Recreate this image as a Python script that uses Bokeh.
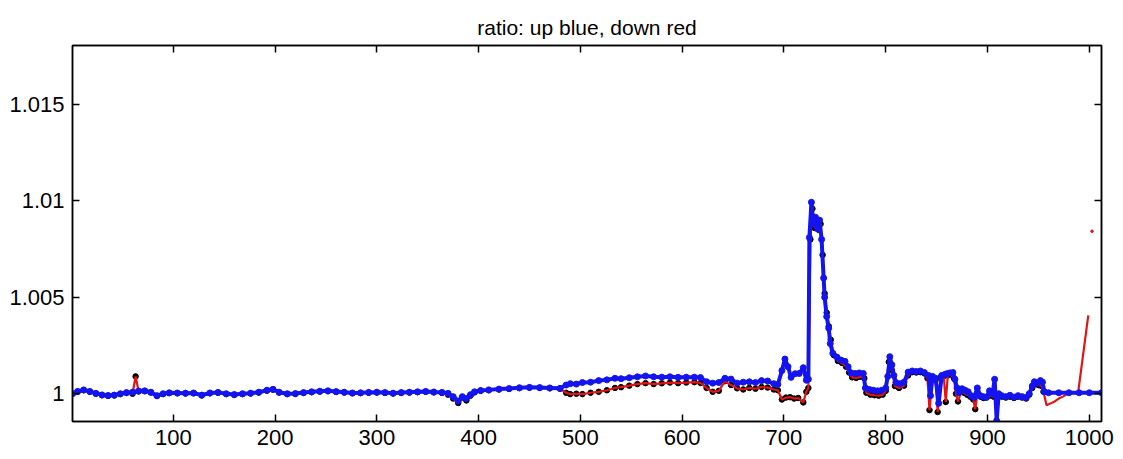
from bokeh.plotting import figure
from bokeh.models import Range1d, LinearAxis, FixedTicker, CustomJSTickFormatter
from bokeh.embed import file_html
from bokeh.resources import INLINE

# ---- data ----
x_up = [1, 6, 12, 18, 24, 30, 36, 42, 48, 54, 60, 66, 72, 78, 84, 90, 96, 104, 112, 120,
        128, 136, 144, 152, 160, 168, 176, 184, 192, 198, 204, 212, 220, 228, 236, 244, 252,
        260, 268, 276, 284, 292, 300, 308, 316, 324, 332, 340, 348, 356, 364, 370, 375, 380,
        384, 388, 392, 396, 402, 410, 420, 430, 440, 450, 460, 470, 480, 486, 490, 496, 502,
        510, 518, 526, 534, 540, 548, 556, 564, 572, 580, 588, 596, 604, 612, 618, 624, 630,
        636, 642, 648, 654, 660, 666, 672, 678, 684, 690, 694, 698, 701, 704, 707, 711, 715,
        719, 722, 724, 725, 727, 729, 731, 733, 735, 737, 739, 740, 742, 744, 745.5, 748, 752,
        756, 760, 763, 766, 770, 774, 778, 780, 784, 788, 792, 796, 800, 802, 804, 806, 808,
        810, 814, 818, 822, 826, 830, 834, 838, 842, 844, 846, 849, 852, 855, 858, 860, 863,
        866, 868, 870, 872, 875, 878, 881, 884, 887, 890, 893, 896, 899, 902, 905, 907, 909,
        911, 914, 918, 922, 926, 930, 934, 938, 941, 944, 946, 949, 952, 954, 956, 960, 970,
        980, 990, 1000, 1012]
ratio_up = [1.00000, 1.00012, 1.00020, 1.00012, 1.00002, 0.99994, 0.99991, 0.99993, 1.00000,
            1.00006, 1.00008, 1.00014, 1.00015, 1.00008, 0.99990, 1.00000, 1.00005, 1.00004,
            1.00003, 1.00004, 0.99993, 1.00004, 1.00007, 1.00000, 0.99996, 1.00000, 1.00003,
            1.00008, 1.00018, 1.00023, 1.00008, 1.00000, 1.00001, 1.00006, 1.00010, 1.00013,
            1.00015, 1.00011, 1.00008, 1.00004, 1.00005, 1.00007, 1.00008, 1.00006, 1.00003,
            1.00006, 1.00008, 1.00010, 1.00012, 1.00009, 1.00007, 1.00002, 0.99985, 0.99962,
            0.99985, 0.99975, 0.99995, 1.00010, 1.00017, 1.00020, 1.00024, 1.00027, 1.00031,
            1.00033, 1.00032, 1.00030, 1.00028, 1.00045, 1.00052, 1.00050, 1.00058, 1.00060,
            1.00068, 1.00072, 1.00080, 1.00078, 1.00083, 1.00088, 1.00092, 1.00088, 1.00086,
            1.00088, 1.00085, 1.00086, 1.00086, 1.00084, 1.00062, 1.00055, 1.00058, 1.00080,
            1.00076, 1.00055, 1.00060, 1.00062, 1.00058, 1.00068, 1.00066, 1.00052, 1.00048,
            1.00120, 1.00180, 1.00140, 1.00085, 1.00104, 1.00105, 1.00135, 1.00070, 1.00075,
            1.00810, 1.00993, 1.00880, 1.00915, 1.00855, 1.00900, 1.00800, 1.00600, 1.00500,
            1.00400, 1.00340, 1.00260, 1.00210, 1.00190, 1.00175, 1.00168, 1.00140, 1.00108,
            1.00105, 1.00108, 1.00105, 1.00030, 1.00022, 1.00018, 1.00015, 1.00018, 1.00030,
            1.00090, 1.00192, 1.00150, 1.00095, 1.00058, 1.00052, 1.00060, 1.00112, 1.00118,
            1.00115, 1.00118, 1.00110, 1.00095, 0.99990, 1.00090, 1.00080, 0.99950, 1.00095,
            1.00100, 1.00104, 1.00108, 1.00110, 1.00075, 1.00030, 1.00005, 1.00026, 1.00018,
            1.00010, 0.99990, 0.99982, 1.00030, 0.99990, 0.99985, 0.99982, 1.00015, 1.00000,
            1.00075, 0.99860, 1.00000, 0.99990, 0.99985, 0.99992, 0.99982, 0.99990, 0.99985,
            0.99980, 1.00000, 1.00040, 1.00062, 1.00055, 1.00068, 1.00060, 1.00010, 1.00005,
            1.00005, 1.00005, 1.00005, 1.00005, 1.00005]

x_down = [1, 6, 12, 18, 24, 30, 36, 42, 48, 54, 60, 63, 66, 72, 78, 84, 90, 96, 104, 112, 120,
          128, 136, 144, 152, 160, 168, 176, 184, 192, 198, 204, 212, 220, 228, 236, 244, 252,
          260, 268, 276, 284, 292, 300, 308, 316, 324, 332, 340, 348, 356, 364, 370, 375, 380,
          384, 388, 392, 396, 402, 410, 420, 430, 440, 450, 460, 470, 480, 486, 490, 496, 502,
          510, 518, 526, 534, 540, 548, 556, 564, 572, 580, 588, 596, 604, 612, 618, 624, 630,
          636, 642, 648, 654, 660, 666, 672, 678, 684, 690, 694, 698, 702, 706, 710, 714, 719,
          722, 724, 726, 728, 730, 732, 734, 736, 738, 740, 742, 744, 746, 749, 753, 757, 761,
          764, 767, 771, 775, 779, 781, 785, 789, 793, 797, 800, 803, 806, 809, 813, 818, 822,
          826, 830, 834, 838, 841, 843, 846, 849, 851, 854, 857, 859, 861, 864, 867, 869, 871,
          874, 877, 880, 883, 886, 888, 890, 893, 896, 899, 902, 906, 910, 914, 918, 922, 926,
          930, 934, 938, 941, 944, 947, 950, 953, 955, 958, 962, 966, 970, 974, 980, 986, 989,
          999]
ratio_down = [1.00000, 1.00010, 1.00018, 1.00010, 1.00000, 0.99992, 0.99989, 0.99991, 0.99998,
              1.00004, 1.00000, 1.00090, 1.00012, 1.00013, 1.00006, 0.99988, 0.99998, 1.00003,
              1.00002, 1.00001, 1.00002, 0.99991, 1.00002, 1.00005, 0.99998, 0.99994, 0.99998,
              1.00001, 1.00006, 1.00016, 1.00021, 1.00006, 0.99998, 0.99999, 1.00004, 1.00008,
              1.00011, 1.00013, 1.00009, 1.00006, 1.00002, 1.00003, 1.00005, 1.00006, 1.00004,
              1.00001, 1.00004, 1.00006, 1.00008, 1.00010, 1.00007, 1.00004, 0.99995, 0.99975,
              0.99952, 0.99980, 0.99965, 0.99990, 1.00007, 1.00015, 1.00018, 1.00022, 1.00025,
              1.00029, 1.00031, 1.00030, 1.00028, 1.00026, 1.00005, 0.99998, 1.00000, 0.99998,
              1.00005, 1.00010, 1.00018, 1.00030, 1.00034, 1.00042, 1.00050, 1.00055, 1.00050,
              1.00054, 1.00058, 1.00055, 1.00058, 1.00060, 1.00056, 1.00030, 1.00010, 1.00015,
              1.00065, 1.00045, 1.00028, 1.00022, 1.00030, 1.00026, 1.00035, 1.00032, 1.00022,
              1.00018, 0.99970, 0.99980, 0.99982, 0.99975, 0.99978, 0.99955, 1.00010, 1.00030,
              1.00800, 1.00960, 1.00860, 1.00890, 1.00850, 1.00880, 1.00720, 1.00520, 1.00420,
              1.00350, 1.00280, 1.00200, 1.00170, 1.00160, 1.00140, 1.00110, 1.00085, 1.00082,
              1.00088, 1.00080, 1.00005, 0.99995, 0.99992, 0.99990, 0.99995, 1.00015, 1.00165,
              1.00120, 1.00040, 1.00030, 1.00042, 1.00095, 1.00112, 1.00110, 1.00112, 1.00105,
              1.00080, 0.99915, 1.00080, 1.00070, 0.99905, 1.00085, 1.00090, 0.99957, 1.00095,
              1.00100, 1.00080, 1.00000, 0.99960, 1.00010, 1.00005, 0.99995, 0.99985, 0.99970,
              0.99920, 1.00000, 0.99985, 0.99978, 0.99980, 0.99990, 0.99985, 0.99990, 0.99985,
              0.99980, 0.99985, 0.99978, 0.99985, 0.99980, 0.99975, 0.99995, 1.00030, 1.00050,
              1.00045, 1.00040, 1.00010, 0.99940, 0.99950, 0.99960, 0.99975, 0.99985, 1.00003,
              1.00003, 1.00005, 1.00406]
x_down_stray = [1002.7]
ratio_down_stray = [1.00843]

x_ticks = [100, 200, 300, 400, 500, 600, 700, 800, 900, 1000]
y_ticks = [1.0, 1.005, 1.01, 1.015]

BLUE = "#1414f0"
RED = "#e01414"
FONT = "Liberation Sans"

p = figure(width=1123, height=459, output_backend="svg", toolbar_location=None,
           x_range=Range1d(1, 1012), y_range=Range1d(0.99856, 1.01806),
           title="ratio: up blue, down red",
           min_border_left=72, min_border_right=22, min_border_top=45, min_border_bottom=38)

p.title.text_font = FONT
p.title.text_font_style = "normal"
p.title.text_font_size = "21px"
p.title.align = "center"
p.title.text_color = "black"
p.title.standoff = 14

p.xgrid.visible = False
p.ygrid.visible = False
p.outline_line_color = "black"
p.outline_line_width = 1.5
p.background_fill_color = "white"
p.border_fill_color = "white"

fmt = CustomJSTickFormatter(code="return String(Number(tick.toFixed(4)));")
blank = CustomJSTickFormatter(code="return '';")

for ax in p.xaxis:
    ax.ticker = FixedTicker(ticks=x_ticks)
for ax in p.yaxis:
    ax.ticker = FixedTicker(ticks=y_ticks)
    ax.formatter = fmt

for ax in list(p.xaxis) + list(p.yaxis):
    ax.major_tick_in = 7
    ax.major_tick_out = 0
    ax.minor_tick_line_color = None
    ax.major_tick_line_color = "black"
    ax.major_tick_line_width = 1.5
    ax.axis_line_color = "black"
    ax.axis_line_width = 1.5
    ax.major_label_text_font = FONT
    ax.major_label_text_font_size = "22px"
    ax.major_label_text_color = "black"
    ax.major_label_standoff = 8

top_axis = LinearAxis(ticker=FixedTicker(ticks=x_ticks), formatter=blank,
                      major_tick_in=7, major_tick_out=0, minor_tick_line_color=None,
                      major_label_standoff=0, major_label_text_font_size="1px",
                      axis_line_width=1.5, major_tick_line_width=1.5)
right_axis = LinearAxis(ticker=FixedTicker(ticks=y_ticks), formatter=blank,
                        major_tick_in=7, major_tick_out=0, minor_tick_line_color=None,
                        major_label_standoff=0, major_label_text_font_size="1px",
                        axis_line_width=1.5, major_tick_line_width=1.5)
p.add_layout(top_axis, "above")
p.add_layout(right_axis, "right")

# down series: black dots under a red line
mask_n = len([v for v in x_down if v <= 956])
p.scatter(x_down[:mask_n], ratio_down[:mask_n], size=5.5, color="black")
p.line(x_down, ratio_down, line_color=RED, line_width=2.2)
p.scatter(x_down_stray, ratio_down_stray, size=2.5, color=RED)

# up series: blue line with blue dots
p.line(x_up, ratio_up, line_color=BLUE, line_width=4)
p.scatter(x_up, ratio_up, size=6, color=BLUE)

open("out.html", "w").write(file_html(p, INLINE))
